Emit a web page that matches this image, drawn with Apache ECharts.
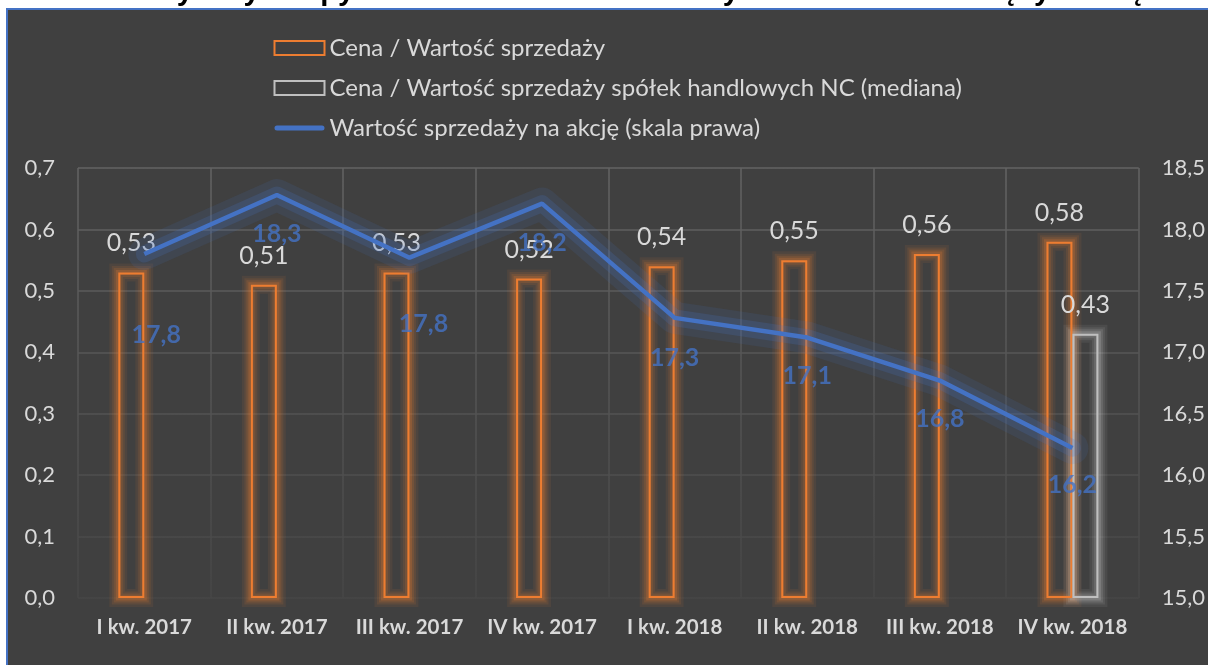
<!DOCTYPE html>
<html><head><meta charset="utf-8">
<script src="https://cdn.jsdelivr.net/npm/echarts@6/dist/echarts.min.js"></script>
<style>html,body{margin:0;padding:0;background:#fff;overflow:hidden}#c{width:1208px;height:665px}</style>
</head><body><div id="c"></div><script>
const titleText = 'Wskaźniki wyceny Grupy Emitenta w stosunku do zysku wraz ze średnią rynkową';
const categories = ['I kw. 2017','II kw. 2017','III kw. 2017','IV kw. 2017','I kw. 2018','II kw. 2018','III kw. 2018','IV kw. 2018'];
const seriesNames = ['Cena / Wartość sprzedaży','Cena / Wartość sprzedaży spółek handlowych NC (mediana)','Wartość sprzedaży na akcję (skala prawa)'];
const priceToSales = [0.53,0.51,0.53,0.52,0.54,0.55,0.56,0.58];
const medianPriceToSales = [null,null,null,null,null,null,null,0.43];
const salesPerShare = [17.80,18.28,17.77,18.21,17.28,17.12,16.77,16.22];
const leftAxisTicks = [0,0.1,0.2,0.3,0.4,0.5,0.6,0.7];
const rightAxisTicks = [15.0,15.5,16.0,16.5,17.0,17.5,18.0,18.5];

// label placement for line labels (style, not data)
const lineLabelOffsets = [[12,81],[0,39],[14,66],[0,39],[0,40],[0,38],[0,38],[0,37]];

const FONT = 'Lato';
const TXT = '#d9d9d9';
const BAR_W = 26;
const fmt = (d) => (v) => Number(v).toFixed(d).replace('.', ',');

const cv = document.createElement('canvas').getContext('2d');
cv.font = 'bold 100px "Liberation Sans"';
const titleSize = 100 * 1138 / cv.measureText(titleText).width;

const chart = echarts.init(document.getElementById('c'), null, {renderer:'canvas'});
const gridGrad = () => new echarts.graphic.LinearGradient(0, 168, 0, 598, [
  {offset:0, color:'#636363'}, {offset:1, color:'#464646'}], true);

const lineIcon = 'path://M0,0L0.01,0L0,0.01Z M0,14L0.01,14L0,13.99Z M2.5,4.5L47.5,4.5A2.5,2.5,0,0,1,47.5,9.5L2.5,9.5A2.5,2.5,0,0,1,2.5,4.5Z';

// soft glow around bar outlines (drawn through the axes' own scales)
const glowLayers = [{w:18, a:0.08},{w:13, a:0.11},{w:9, a:0.15},{w:5, a:0.22}];
function glowRender(side, rgb){
  return function(params, api){
    const v = api.value(1);
    if (v == null || isNaN(v)) return;
    const top = api.coord([api.value(0), v]);
    const base = api.coord([api.value(0), 0]);
    const x = side < 0 ? top[0] - BAR_W : top[0];
    return {type:'group', children: glowLayers.map(l => ({
      type:'rect', shape:{x:x, y:top[1], width:BAR_W, height:base[1]-top[1]},
      style:{fill:'none', stroke:'rgba('+rgb+','+l.a+')', lineWidth:l.w}
    }))};
  };
}

chart.setOption({
  backgroundColor:'#ffffff',
  animation:false,
  graphic:[
    {type:'text', z:-20, left:4, top:4 - titleSize*0.92,
     style:{text:titleText, font:'bold '+titleSize.toFixed(2)+'px "Liberation Sans"', fill:'#000'}},
    {type:'rect', z:-10, shape:{x:7, y:9, width:1220, height:680},
     style:{fill:'#404040', stroke:'#4472C4', lineWidth:2}}
  ],
  legend:{
    orient:'vertical', left:272, top:36, padding:0, itemWidth:50, itemHeight:14, itemGap:16,
    textStyle:{color:TXT, fontFamily:FONT, fontSize:24, lineHeight:23.5},
    data:[{name:seriesNames[0], icon:'rect'},{name:seriesNames[1], icon:'rect'},
          {name:seriesNames[2], icon:lineIcon, itemStyle:{color:'#4472C4', borderWidth:0}}]
  },
  grid:{left:78, right:63, top:168, bottom:67, containLabel:false},
  xAxis:{
    type:'category', data:categories,
    axisLine:{show:false}, axisTick:{show:false, interval:0},
    axisLabel:{interval:0, color:TXT, fontFamily:FONT, fontWeight:'bold', fontSize:20.5, margin:19},
    splitLine:{show:true, interval:0, lineStyle:{color:gridGrad(), width:1.5}}
  },
  yAxis:[
    {type:'value', min:leftAxisTicks[0], max:leftAxisTicks[leftAxisTicks.length-1], interval:0.1,
     axisLine:{show:false}, axisTick:{show:false},
     axisLabel:{color:TXT, fontFamily:FONT, fontSize:22, margin:23, formatter:fmt(1)},
     splitLine:{show:true, lineStyle:{color:gridGrad(), width:1.5}}},
    {type:'value', min:rightAxisTicks[0], max:rightAxisTicks[rightAxisTicks.length-1], interval:0.5,
     axisLine:{show:false}, axisTick:{show:false},
     axisLabel:{color:TXT, fontFamily:FONT, fontSize:22, margin:23, formatter:fmt(1)},
     splitLine:{show:false}}
  ],
  series:[
    {name:'glowA', type:'custom', z:1, silent:true, clip:false,
     data:priceToSales.map((v,i)=>[i,v]), renderItem:glowRender(-1,'237,125,49')},
    {name:'glowB', type:'custom', z:1, silent:true, clip:false,
     data:medianPriceToSales.map((v,i)=>[i,v]), renderItem:glowRender(1,'200,200,200')},
    {name:seriesNames[0], type:'bar', data:priceToSales, barWidth:BAR_W, barGap:'0%', z:2,
     itemStyle:{color:'none', borderColor:'#ED7D31', borderWidth:2},
     label:{show:true, position:'top', distance:15, color:TXT, fontFamily:FONT, fontSize:25,
            formatter:(p)=>fmt(2)(p.value)}},
    {name:seriesNames[1], type:'bar', data:medianPriceToSales, barWidth:BAR_W, barGap:'0%', z:2,
     itemStyle:{color:'none', borderColor:'#BFBFBF', borderWidth:2},
     label:{show:true, position:'top', distance:15, color:TXT, fontFamily:FONT, fontSize:25,
            formatter:(p)=>p.value==null?'':fmt(2)(p.value)}},
    {name:'glowL1', type:'line', yAxisIndex:1, z:4, data:salesPerShare, symbol:'none', silent:true,
     lineStyle:{color:'rgba(68,114,196,0.12)', width:32, join:'round', cap:'round'}},
    {name:'glowL2', type:'line', yAxisIndex:1, z:4, data:salesPerShare, symbol:'none', silent:true,
     lineStyle:{color:'rgba(68,114,196,0.2)', width:17, join:'round', cap:'round'}},
    {name:seriesNames[2], type:'line', yAxisIndex:1, z:5, data:salesPerShare,
     symbol:'none',
     lineStyle:{color:'#4472C4', width:4.5},
     itemStyle:{color:'#4472C4'}},
    {name:'labels', type:'scatter', yAxisIndex:1, z:6, silent:true, symbolSize:0,
     data:salesPerShare.map((v,i)=>({value:v, label:{offset:lineLabelOffsets[i]}})),
     itemStyle:{color:'rgba(0,0,0,0)'},
     label:{show:true, position:'inside', color:'#4472C4', fontFamily:FONT, fontWeight:'bold', fontSize:25,
            formatter:(p)=>fmt(1)(p.value)}}
  ]
});
</script></body></html>
